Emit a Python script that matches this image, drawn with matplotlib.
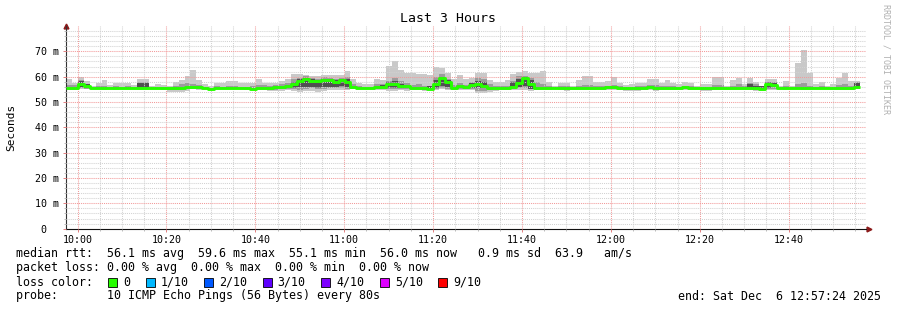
import numpy as np
import matplotlib
matplotlib.use('Agg')
import matplotlib.pyplot as plt
from matplotlib.patches import Rectangle

plt.rcParams['font.family'] = ['DejaVu Sans Mono']

W, H = 897, 310

# 80 s steps over the last 3 hours, x in minutes after midnight
start_min = 9 * 60 + 57 + 24 / 60
step_min = 80 / 60
nan = np.nan

# median rtt per step (ms)
median_ms = [55.6, 55.6, 57.0, 56.4, 55.7, 55.7, 55.6, 55.6, 55.5, 55.6,
             55.6, 55.7, 55.6, 55.6, 55.7, 55.7, 55.6, 55.4, 55.5, 55.6,
             55.9, 55.9, 55.8,
             55.4, 55.1, 55.4, 55.4, 55.4, 55.4, 55.4, 55.4, 55.3, 55.4,
             55.7, 55.7, 55.9, 56.1, 56.5, 57.2, 58.2, 59.2, 58.4, 58.2,
             58.8, 58.8,
             58.0, 58.5, 57.8, 56.0, 55.7, 55.7, 55.7, 56.1, 56.1, 57.0,
             57.2, 56.3, 56.3, 55.7, 55.7, 55.4, 55.3, 57.1, 59.5, 57.8,
             55.7, 56.3, 56.0,
             56.7, 57.2, 56.5, 55.7, 55.7, 55.7, 55.7, 56.1, 57.6, 59.4,
             57.2, 55.7, 55.7, 55.7, 55.7, 55.7, 55.4, 55.7, 55.7, 55.7,
             55.7, 55.7, 55.7,
             55.8, 55.8, 55.7, 55.5, 55.5, 55.6, 55.6, 55.8, 55.6, 55.6,
             55.6, 55.7, 55.7, 55.8, 55.6, 55.6, 55.6, 55.6, 55.7, 55.7,
             55.6, 55.7,
             55.7, 55.7, 55.7, 55.4, 55.2, 57.1, 56.7, 55.7, 55.7, 55.7,
             55.7, 55.7, 55.7, 55.7, 55.7, 55.7, 55.7, 55.7, 55.7, 55.7,
             55.8, nan]

# slowest / fastest ping per step (outer smoke)
max_ms = [58.9, 57.6, 59.9, 58.2, 56.5, 57.4, 58.5, 56.6, 57.4, 57.5,
          57.4, 56.6, 58.9, 58.9, 56.5, 57.0, 56.8, 56.5, 58.0, 58.5,
          60.2, 62.5, 58.5,
          57.0, 56.3, 57.6, 57.6, 58.4, 58.4, 57.4, 57.4, 57.6, 59.0,
          57.6, 57.6, 57.6, 58.4, 59.0, 61.1, 61.1, 60.8, 60.4, 60.4,
          60.8, 60.8,
          60.6, 60.6, 62.3, 59.2, 57.6, 57.2, 57.0, 59.0, 58.5, 64.2,
          66.2, 62.6, 61.6, 61.6, 61.2, 61.2, 60.6, 64.0, 63.3, 61.4,
          59.0, 60.8, 59.0,
          59.3, 61.3, 61.3, 58.8, 57.9, 57.9, 58.6, 60.9, 62.0, 62.3,
          61.6, 61.3, 62.2, 57.9, 56.3, 57.6, 57.6, 56.3, 58.8, 60.4,
          60.4, 57.9, 58.0,
          58.3, 59.8, 57.6, 56.7, 57.0, 57.4, 57.4, 58.9, 58.9, 57.6,
          58.6, 57.4, 57.0, 58.0, 57.4, 56.4, 57.0, 57.0, 59.9, 59.9,
          56.4, 58.5,
          59.3, 57.2, 59.3, 58.0, 56.0, 59.2, 59.0, 56.3, 58.3, 56.3,
          65.5, 70.5, 61.6, 57.0, 58.0, 56.3, 57.0, 59.6, 61.3, 58.1,
          58.4, nan]

min_ms = [54.6, 54.6, 55.0, 55.0, 55.0, 55.0, 54.9, 55.0, 54.6, 55.0,
          55.0, 55.0, 54.7, 54.7, 55.0, 55.0, 54.8, 54.1, 54.1, 54.1,
          54.4, 55.0, 54.8,
          55.0, 54.6, 55.0, 55.0, 55.0, 55.0, 55.0, 54.9, 54.6, 54.8,
          54.8, 54.2, 54.2, 54.4, 54.8, 54.4, 54.0, 54.4, 54.4, 54.0,
          54.4, 54.8,
          54.6, 54.8, 54.6, 55.0, 55.0, 55.0, 55.0, 54.8, 54.6, 54.4,
          54.4, 54.6, 54.4, 54.6, 54.7, 54.4, 54.6, 54.8, 55.0, 54.8,
          54.8, 54.6, 54.8,
          54.6, 53.6, 53.6, 54.0, 54.4, 54.8, 54.8, 54.8, 54.6, 54.6,
          54.2, 54.8, 54.8, 54.8, 55.0, 54.8, 54.2, 54.6, 54.8, 54.8,
          54.8, 54.8, 54.8,
          54.8, 54.8, 54.8, 54.4, 54.2, 54.4, 54.6, 54.8, 54.4, 54.8,
          54.6, 54.8, 54.8, 54.6, 54.8, 54.8, 54.4, 54.4, 54.6, 54.8,
          54.8, 54.8,
          54.8, 54.8, 54.6, 54.4, 54.2, 54.8, 54.6, 55.0, 54.8, 55.0,
          55.0, 54.8, 54.8, 55.0, 55.0, 55.0, 54.8, 54.6, 54.8, 54.8,
          55.0, nan]

# inner pings (middle smoke)
mid_hi = [56.8, 56.6, 58.5, 57.2, 56.0, 56.2, 56.4, 56.0, 56.2, 56.0,
          56.2, 56.0, 57.8, 57.8, 56.0, 56.1, 56.0, 55.9, 56.4, 57.0,
          57.6, 57.2, 56.6,
          56.0, 55.6, 56.2, 56.0, 56.4, 56.4, 56.0, 56.0, 56.2, 56.8,
          56.6, 56.4, 56.6, 57.0, 57.4, 59.2, 59.6, 60.2, 59.6, 59.2,
          59.8, 59.4,
          59.0, 59.4, 60.0, 57.2, 56.2, 56.0, 56.0, 57.0, 57.0, 58.4,
          59.6, 58.2, 57.4, 56.8, 57.0, 56.4, 56.4, 60.0, 61.0, 59.2,
          56.6, 57.4, 56.8,
          58.0, 59.6, 59.0, 57.2, 56.2, 56.2, 56.4, 58.4, 60.4, 60.4,
          59.6, 58.0, 57.0, 56.2, 55.9, 56.2, 56.2, 55.9, 56.4, 56.8,
          56.8, 56.2, 56.4,
          56.4, 56.8, 56.2, 55.9, 56.0, 56.2, 56.2, 56.6, 56.6, 56.2,
          56.4, 56.2, 56.0, 56.4, 56.2, 55.9, 56.0, 56.0, 56.8, 56.8,
          55.9, 56.4,
          57.0, 56.2, 57.6, 57.0, 55.8, 58.0, 58.0, 55.9, 56.4, 55.9,
          57.2, 57.6, 56.4, 56.0, 56.2, 55.9, 56.0, 56.6, 57.0, 56.4,
          57.8, nan]

mid_lo = [55.0, 55.0, 55.4, 55.3, 55.3, 55.3, 55.2, 55.3, 55.0, 55.3,
          55.2, 55.3, 55.0, 55.0, 55.3, 55.3, 55.0, 54.6, 54.6, 55.1,
          55.3, 55.3, 55.2,
          55.1, 54.8, 55.1, 55.1, 55.1, 55.1, 55.1, 55.1, 54.9, 55.1,
          55.2, 54.8, 54.8, 55.0, 55.2, 55.0, 54.8, 55.2, 55.4, 55.0,
          55.2, 55.4,
          55.4, 55.4, 55.2, 55.3, 55.3, 55.3, 55.3, 55.2, 55.0, 55.0,
          55.0, 55.0, 55.0, 55.1, 55.2, 54.9, 55.0, 55.3, 55.6, 55.2,
          55.2, 55.0, 55.2,
          55.2, 54.4, 54.4, 54.6, 55.0, 55.2, 55.2, 55.2, 55.4, 55.6,
          55.0, 55.2, 55.2, 55.3, 55.3, 55.2, 54.8, 55.1, 55.3, 55.2,
          55.2, 55.3, 55.2,
          55.2, 55.2, 55.2, 54.8, 54.7, 54.9, 55.0, 55.2, 54.9, 55.2,
          55.0, 55.2, 55.2, 55.0, 55.2, 55.2, 54.9, 54.9, 55.1, 55.2,
          55.2, 55.2,
          55.2, 55.2, 55.0, 54.8, 54.6, 55.2, 55.0, 55.3, 55.2, 55.3,
          55.3, 55.2, 55.2, 55.3, 55.3, 55.3, 55.2, 55.0, 55.2, 55.2,
          55.3, nan]

# steps where the dense (dark) smoke shows
dark_steps = [2, 3, 12, 13, 38, 39, 40, 41, 42, 43, 44, 45, 46, 47,
              53, 54, 55, 56, 61, 62, 63, 64, 68, 69, 70, 75, 76, 77, 78,
              115, 116, 117, 118, 119, 133]
dark_lo = [56.0, 55.6, 55.4, 55.4, 55.6, 55.8, 56.0, 56.0, 55.6, 56.0,
           56.0, 55.8, 56.2, 55.8, 55.4, 55.6, 55.6, 55.4, 55.2, 55.6,
           56.4, 55.8, 55.6, 55.4, 55.4, 55.6, 55.8, 56.2, 55.2, 55.4,
           55.0, 55.0, 55.6, 55.8, 55.8]
dark_hi = [58.2, 57.2, 57.6, 57.6, 58.0, 59.0, 59.6, 59.0, 58.8, 59.0,
           59.0, 58.6, 59.0, 59.2, 56.8, 58.0, 58.4, 57.0, 56.2, 58.6,
           60.0, 58.6, 57.6, 58.4, 57.8, 57.8, 59.0, 60.0, 58.6, 57.0,
           56.4, 56.2, 57.8, 57.6, 57.4]

x_labels = ['10:00', '10:20', '10:40', '11:00', '11:20', '11:40', '12:00', '12:20', '12:40']
y_labels = ['0  ', '10 m', '20 m', '30 m', '40 m', '50 m', '60 m', '70 m']

loss_labels = ['0', '1/10', '2/10', '3/10', '4/10', '5/10', '9/10']
loss_colors = ['#26ff00', '#00b8ff', '#0059ff', '#5e00ff', '#7e00ff', '#dd00ff', '#ff0000']

line_rtt = 'median rtt:  56.1 ms avg  59.6 ms max  55.1 ms min  56.0 ms now   0.9 ms sd  63.9   am/s'
line_loss = 'packet loss: 0.00 % avg  0.00 % max  0.00 % min  0.00 % now'
line_probe = 'probe:       10 ICMP Echo Pings (56 Bytes) every 80s'
line_end = 'end: Sat Dec  6 12:57:24 2025'

n = len(median_ms)
edges = start_min + step_min * np.arange(n + 1)
med = np.array(median_ms)
hi = np.array(max_ms)
lo = np.array(min_ms)
mhi = np.array(mid_hi)
mlo = np.array(mid_lo)

fig = plt.figure(figsize=(W / 100, H / 100), dpi=100)
fig.patch.set_facecolor('white')
ax = fig.add_axes([66 / W, (H - 228.7) / H, 800 / W, 202.7 / H])
ax.set_facecolor('white')

# smoke
ax.bar(edges[:-1], hi - lo, bottom=lo, width=step_min, align='edge', color='#c9c9c9', linewidth=0, zorder=1)
ax.bar(edges[:-1], mhi - mlo, bottom=mlo, width=step_min, align='edge', color='#9c9c9c', linewidth=0, zorder=1.1)
dsx = edges[np.array(dark_steps)]
ax.bar(dsx, np.array(dark_hi) - np.array(dark_lo), bottom=dark_lo, width=step_min, align='edge',
       color='#505050', linewidth=0, zorder=1.2)

# median line
ax.step(edges, np.append(med, med[-2]), where='post', color='#26ff00', linewidth=2.1, zorder=3,
        solid_capstyle='butt')

ax.set_xlim(edges[0], edges[-1])
ax.set_ylim(0, 80)

xt = [int(s[:2]) * 60 + int(s[3:]) for s in x_labels]
ax.set_xticks(xt)
ax.set_xticklabels(x_labels)
ax.set_xticks(np.arange(600, edges[-1], 5), minor=True)
ax.set_yticks(np.arange(0, 71, 10))
ax.set_yticklabels(y_labels)
ax.set_yticks(np.arange(0, 80, 2), minor=True)

ax.set_axisbelow(False)
ax.xaxis.grid(True, which='major', color='#f29a9a', linestyle=(0, (1, 1)), linewidth=0.75)
ax.xaxis.grid(True, which='minor', color='#d2d2d2', linestyle=(0, (1, 1)), linewidth=0.75)
ax.yaxis.grid(True, which='major', color='#f29a9a', linestyle=(0, (1, 1)), linewidth=0.75)
ax.yaxis.grid(True, which='minor', color='#d2d2d2', linestyle=(0, (1, 1)), linewidth=0.75)

ax.tick_params(axis='both', which='major', labelsize=7.2, length=2.2, width=0.7, color='#e08080', pad=2.5)
ax.tick_params(axis='both', which='minor', length=1.5, width=0.6, color='#b0b0b0')

for s in ['top', 'right']:
    ax.spines[s].set_visible(False)
ax.spines['left'].set_color('#333333')
ax.spines['bottom'].set_color('#111111')
ax.spines['left'].set_linewidth(0.8)
ax.spines['bottom'].set_linewidth(0.8)

# axis arrows
ax.plot([0], [1.0], marker='^', markersize=3.5, color='#8b1a1a', transform=ax.transAxes, clip_on=False)
ax.plot([1.004], [0], marker='>', markersize=3.5, color='#8b1a1a', transform=ax.transAxes, clip_on=False)

# titles
fig.text(448 / W, 1 - 19 / H, 'Last 3 Hours', ha='center', va='center', fontsize=9.5)
fig.text(11 / W, 1 - 127 / H, 'Seconds', rotation=90, ha='center', va='center', fontsize=8)
fig.text(886 / W, 1 - 4 / H, 'RRDTOOL / TOBI OETIKER', rotation=270, ha='center', va='top',
         fontsize=6, color='#b0b0b0')

# legend
fs = 8.4
cw = 7.02
fig.text(16 / W, 1 - 254 / H, line_rtt, ha='left', va='center', fontsize=fs)
fig.text(16 / W, 1 - 268 / H, line_loss, ha='left', va='center', fontsize=fs)
fig.text(16 / W, 1 - 282 / H, 'loss color:', ha='left', va='center', fontsize=fs)
fig.text(16 / W, 1 - 296 / H, line_probe, ha='left', va='center', fontsize=fs)
fig.text(881 / W, 1 - 296 / H, line_end, ha='right', va='center', fontsize=fs)

cx = 108
for lab, col in zip(loss_labels, loss_colors):
    fig.add_artist(Rectangle((cx / W, 1 - 286.5 / H), 9 / W, 9 / H, transform=fig.transFigure,
                             facecolor=col, edgecolor='black', linewidth=0.6))
    fig.text((cx + 15) / W, 1 - 282 / H, lab, ha='left', va='center', fontsize=fs)
    cx = cx + 15 + len(lab) * cw + 15.5

fig.savefig('out.png', dpi=100, facecolor='white')
